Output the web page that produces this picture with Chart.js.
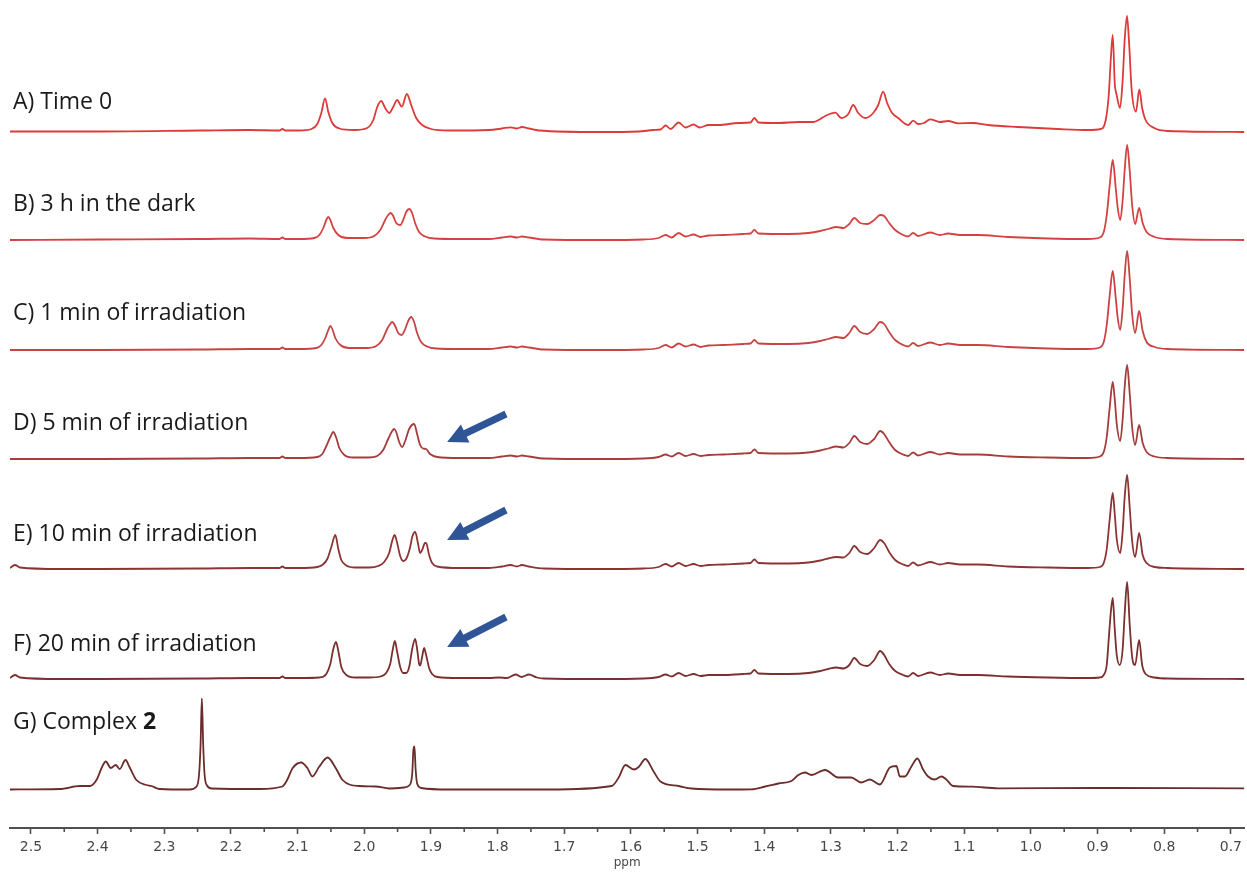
<!DOCTYPE html>
<html><head><meta charset="utf-8">
<script src="https://cdn.jsdelivr.net/npm/chart.js@4/dist/chart.umd.min.js"></script>
<style>html,body{margin:0;padding:0;background:#fff}#wrap{width:1247px;height:872px;position:relative}</style>
</head><body><div id="wrap"><canvas id="c"></canvas></div>
<script>
// ---- x-axis range / ticks (ppm) ----
const X_MAX = 2.5314, X_MIN = 0.6797;
const majorTicks = [2.5,2.4,2.3,2.2,2.1,2.0,1.9,1.8,1.7,1.6,1.5,1.4,1.3,1.2,1.1,1.0,0.9,0.8,0.7];
const minorTicks = [2.45,2.35,2.25,2.15,2.05,1.95,1.85,1.75,1.65,1.55,1.45,1.35,1.25,1.15,1.05,0.95,0.85,0.75];
const traceLabels = ['A) Time 0','B) 3 h in the dark','C) 1 min of irradiation','D) 5 min of irradiation','E) 10 min of irradiation','F) 20 min of irradiation','G) Complex '];
const boldSuffix = ['','','','','','','2'];

// ---- spectra: [ppm, intensity] ----
const specA = [[2.5314,0],[2.3967,0],[2.247,1],[2.1721,1.5],[2.1272,1],[2.1228,2.5],[2.1183,1],[2.0973,1],
[2.0793,2.5],[2.0704,7.5],[2.0644,18.5],[2.0588,33.2],[2.0539,19.5],[2.0479,8.5],[2.0374,3],[2.015,1.5],
[1.9955,3.5],[1.9865,11.5],[1.9805,24.5],[1.9746,30.5],[1.9686,23.5],[1.9626,18.5],[1.9566,24.5],[1.9506,31.5],[1.9436,24.8],[1.9361,37.5],[1.9296,26.5],[1.9221,13.5],[1.9132,6.5],[1.8997,2.5],[1.8728,1],
[1.8129,1.5],[1.7934,3],[1.7804,4.2],[1.771,3],[1.7635,4.5],[1.753,3],[1.738,1],[1.6482,-0.5],[1.5883,0],[1.5659,1.5],[1.5554,2],[1.5479,6],[1.5404,2.5],[1.5284,9],[1.518,4],[1.506,7],[1.497,4],[1.4835,6.5],[1.4686,6.5],[1.4386,8.5],[1.4206,9],[1.4147,13.5],[1.4087,9],[1.3787,8.5],[1.3488,9.5],[1.3263,9.5],
[1.3159,12.5],[1.3084,15.5],[1.2934,18.8],[1.2844,13.5],[1.2739,17.5],[1.2665,26.5],[1.259,18.5],[1.2485,13.5],[1.2365,18.5],[1.229,26.5],[1.2216,39.8],[1.2156,28.5],[1.2081,18.5],[1.1991,13.5],[1.1841,6.5],[1.1766,10.8],[1.1692,7.5],[1.1602,8.5],[1.1512,12.2],[1.1362,9.5],[1.1242,10.5],[1.1093,8.2],[1.0868,8.5],[1.0644,6.5],[1.0195,4.5],[0.9596,2.5],[0.9147,1.5],
[0.8952,2.5],[0.8877,11.5],[0.8832,36.5],[0.8802,71.5],[0.8772,96.5],[0.8742,48.5],[0.8713,36.5],[0.8663,23.5],[0.8623,51.5],[0.8593,91.5],[0.8558,115.5],[0.8525,86.5],[0.8488,41.5],[0.8424,19.8],[0.8373,42.2],[0.8331,23.5],[0.8279,11.5],[0.8148,3.5],[0.7949,0.5],[0.6797,-0.5]];

const specB = [[2.5314,0],[2.3967,0.5],[2.247,1],[2.1721,1.5],[2.1272,1],[2.1228,2.5],[2.1183,1],[2.0973,1],
[2.0749,2],[2.0674,5],[2.0614,12],[2.0569,20],[2.0539,23],[2.0509,20],[2.0464,12],[2.0389,5],[2.0255,2],[2.0,2],
[1.985,4],[1.976,10],[1.9686,20],[1.9641,25],[1.9603,27],[1.9566,24],[1.9521,17],[1.9461,15],[1.9416,20],[1.9371,28],[1.9326,31],[1.9282,27],[1.9237,17],[1.9177,8],[1.9087,3.5],[1.8952,1.5],[1.8578,1],
[1.8129,1],[1.7934,2.5],[1.7804,3.5],[1.771,2.5],[1.7635,3.5],[1.753,2.5],[1.7305,0.5],[1.6482,0],[1.5808,0.5],[1.5584,2],[1.5479,5],[1.5389,2.5],[1.5284,7],[1.518,3.5],[1.506,5.5],[1.4955,3],[1.4835,4.5],[1.4611,5],[1.4311,6],[1.4206,6.5],[1.4147,10],[1.4087,6.5],[1.3638,6],[1.3338,7],
[1.3159,9],[1.3039,11],[1.2919,13],[1.2814,12],[1.2724,16],[1.2649,22],[1.256,17],[1.2455,16],[1.235,20],[1.2261,25],[1.2201,24],[1.2126,17],[1.2036,10],[1.1916,5],[1.1841,3.5],[1.1766,7],[1.1692,4],[1.1512,7.5],[1.1362,5],[1.1242,6.5],[1.1063,5],[1.0793,5],[1.0344,3],[0.9746,1.5],[0.9147,1],
[0.8967,2.5],[0.8907,8],[0.8862,25],[0.8817,55],[0.8772,80],[0.8727,52],[0.8697,32],[0.866,20],[0.8623,40],[0.8593,70],[0.8556,95],[0.8518,70],[0.8481,35],[0.8436,16],[0.8376,32],[0.8323,17],[0.8264,8],[0.8144,3],[0.7949,1],[0.6797,0]];

const specC = [[2.5314,0],[2.3967,0],[2.247,0.5],[2.1721,1],[2.1272,1],[2.1228,2.5],[2.1183,1],[2.0973,1],
[2.0719,2],[2.0644,5],[2.0584,12],[2.0539,20],[2.0509,24],[2.0479,21],[2.0434,12],[2.0359,5],[2.0225,2],[1.997,2],
[1.982,4],[1.9731,10],[1.9656,21],[1.9611,26],[1.9581,28],[1.9536,24],[1.9491,17],[1.9439,15],[1.9386,21],[1.9341,29],[1.9296,33],[1.9252,28],[1.9207,17],[1.9147,8],[1.9057,3.5],[1.8922,1.5],[1.8578,1],
[1.8129,1],[1.7934,2.5],[1.7804,3.5],[1.771,2.5],[1.7635,3.5],[1.753,2.5],[1.7305,0.5],[1.6482,0],[1.5808,0.5],[1.5584,2],[1.5479,5],[1.5389,2.5],[1.5284,6.5],[1.518,3.5],[1.506,5.5],[1.4955,3],[1.4835,4.5],[1.4611,5],[1.4311,6],[1.4206,6.5],[1.4147,10],[1.4087,6.5],[1.3638,6],[1.3338,7],
[1.3159,9],[1.3039,11],[1.2919,13],[1.2814,12],[1.2724,17],[1.2649,24],[1.256,18],[1.2455,16],[1.235,21],[1.2261,28],[1.2201,26],[1.2126,18],[1.2036,10],[1.1916,5],[1.1841,3.5],[1.1766,7],[1.1692,4],[1.1512,7.5],[1.1362,5],[1.1242,6.5],[1.1063,5],[1.0793,5],[1.0344,3],[0.9746,1.5],[0.9147,1],
[0.8967,2.5],[0.8907,8],[0.8862,25],[0.8817,55],[0.8772,79],[0.8727,52],[0.8697,32],[0.866,20],[0.8623,42],[0.8593,74],[0.8556,99],[0.8518,72],[0.8481,36],[0.8436,17],[0.8376,39],[0.8323,19],[0.8264,8],[0.8144,3],[0.7949,1],[0.6797,0]];

const specD = [[2.5314,0],[2.3967,0],[2.247,0.5],[2.1721,1],[2.1272,1],[2.1228,2.5],[2.1183,1],[2.0973,1],
[2.0704,2],[2.0629,5],[2.0569,13],[2.0509,22],[2.0464,27],[2.0419,21],[2.0374,11],[2.0299,4],[2.0165,1.5],[1.994,1.5],
[1.9805,3],[1.9716,9],[1.9641,20],[1.9581,28],[1.9551,30],[1.9521,27],[1.9476,17],[1.9431,12],[1.9386,18],[1.9326,30],[1.9251,35],[1.9207,25],[1.9162,14],[1.9117,10.5],[1.9072,10],[1.9012,5],[1.8907,2],[1.8578,1],
[1.8129,1],[1.7934,2.5],[1.7804,3.5],[1.771,2.5],[1.7635,3.5],[1.753,2.5],[1.7305,0.5],[1.6482,0],[1.5808,0.5],[1.5584,2],[1.5479,4.5],[1.5389,2.5],[1.5284,6],[1.518,3],[1.506,5],[1.4955,3],[1.4835,4],[1.4611,4.5],[1.4311,5.5],[1.4206,6],[1.4147,9.5],[1.4087,6],[1.3638,5.5],[1.3338,6.5],
[1.3159,8.5],[1.3039,10.5],[1.2919,12.5],[1.2814,11.5],[1.2724,16],[1.2649,23],[1.256,17],[1.2455,15],[1.235,20],[1.2261,28],[1.2201,25],[1.2126,17],[1.2036,9],[1.1916,4.5],[1.1841,3],[1.1766,6.5],[1.1692,3.5],[1.1512,7],[1.1362,4.5],[1.1242,6],[1.1063,4.5],[1.0793,4.5],[1.0344,2.5],[0.9746,1.5],[0.9147,1],
[0.8967,2.5],[0.8907,7],[0.8862,22],[0.8817,52],[0.8772,77],[0.8742,60],[0.8712,35],[0.866,18],[0.8623,40],[0.8593,72],[0.8556,94],[0.8518,66],[0.8481,32],[0.8436,14],[0.8376,34],[0.8323,16],[0.8264,7],[0.8144,2.5],[0.7949,1],[0.6797,0]];

const specE = [[2.5314,1],[2.5239,4],[2.5164,1.5],[2.4566,0],[2.3967,0],[2.247,0.5],[2.1721,1],[2.1272,1],[2.1228,2.5],[2.1183,1],[2.0973,1],
[2.0704,2],[2.0629,4],[2.0554,10],[2.0494,22],[2.0434,34],[2.0389,20],[2.0344,9],[2.0269,3.5],[2.0135,1.5],[1.9925,1.5],
[1.979,3],[1.9701,7],[1.9626,16],[1.9581,28],[1.9544,34],[1.9506,26],[1.9461,13],[1.9416,8],[1.9371,10],[1.9311,22],[1.9281,32],[1.9236,37],[1.9192,25],[1.9162,16],[1.9132,19],[1.9087,26],[1.9072,26],[1.9027,14],[1.8982,6],[1.8907,2.5],[1.8578,1],
[1.8129,1],[1.7934,2.5],[1.7804,4],[1.771,2.5],[1.7635,4],[1.753,2.5],[1.7305,0.5],[1.6482,0],[1.5808,0.5],[1.5584,2],[1.5479,5],[1.5389,2.5],[1.5284,6],[1.518,3],[1.506,5],[1.4955,3],[1.4835,4],[1.4611,4.5],[1.4311,5.5],[1.4206,6],[1.4147,9.5],[1.4087,6],[1.3638,5.5],[1.3338,6.5],
[1.3159,8.5],[1.3039,10.5],[1.2919,12],[1.2814,11.5],[1.2724,16],[1.2649,23],[1.256,17],[1.2455,15],[1.235,21],[1.2261,29],[1.2201,26],[1.2126,17],[1.2036,9],[1.1916,4.5],[1.1841,3],[1.1766,6.5],[1.1692,3.5],[1.1512,7],[1.1362,4.5],[1.1242,6],[1.1063,4.5],[1.0793,4.5],[1.0344,2.5],[0.9746,1.5],[0.9147,1],
[0.8967,2],[0.8907,6],[0.8862,20],[0.8817,50],[0.8772,76],[0.8742,55],[0.8712,30],[0.866,16],[0.8623,38],[0.8593,72],[0.8556,94],[0.8518,62],[0.8481,28],[0.8436,12],[0.8376,36],[0.8323,14],[0.8264,6],[0.8144,2],[0.7949,1],[0.6797,0]];

const specF = [[2.5314,1],[2.5239,4],[2.5164,1.5],[2.4566,0],[2.3967,0],[2.247,0.5],[2.1721,1],[2.1272,1],[2.1228,2.5],[2.1183,1],[2.0973,1],
[2.0674,1.5],[2.0569,5],[2.0509,15],[2.0464,30],[2.0424,37],[2.0389,28],[2.0344,12],[2.0269,4],[2.0135,1.5],[1.9925,1.5],
[1.976,2.5],[1.9671,6],[1.9611,15],[1.9571,30],[1.9541,38],[1.9506,27],[1.9461,12],[1.9416,6],[1.9371,6],[1.9326,12],[1.9281,30],[1.9236,40],[1.9207,30],[1.9177,15],[1.9162,13.5],[1.9132,22],[1.9102,31],[1.9072,24],[1.9027,11],[1.8982,5],[1.8907,2],[1.8578,1],
[1.8129,1],[1.7979,1.5],[1.7859,1],[1.773,4.5],[1.764,2],[1.753,4.5],[1.741,1.5],[1.7305,0.5],[1.6482,0],[1.5808,0.5],[1.5584,2],[1.5479,4.5],[1.5389,2.5],[1.5284,6],[1.518,3],[1.506,5],[1.4955,3],[1.4835,4],[1.4611,4],[1.4311,5],[1.4206,5.5],[1.4147,9],[1.4087,5.5],[1.3638,5],[1.3338,6],
[1.3159,8],[1.3039,10],[1.2919,11.5],[1.2814,10.5],[1.2724,14],[1.2649,21],[1.256,15],[1.2455,13],[1.235,19],[1.2261,28],[1.2201,24],[1.2126,15],[1.2036,8],[1.1916,4],[1.1841,2.5],[1.1766,6],[1.1692,3],[1.1512,6.5],[1.1362,4],[1.1242,5.5],[1.1063,4],[1.0793,4],[1.0344,2.5],[0.9746,1.5],[0.9147,1],
[0.8967,1.5],[0.8907,4],[0.8862,14],[0.8832,40],[0.8802,66],[0.8772,81],[0.8742,50],[0.8712,24],[0.8667,14],[0.8623,30],[0.8593,65],[0.8556,97],[0.8518,55],[0.8481,22],[0.8436,14],[0.8376,39],[0.8331,14],[0.8279,5],[0.8144,1.5],[0.7949,0.5],[0.6797,0]];

const specG = [[2.5314,0],[2.4566,0.5],[2.4266,3.5],[2.4117,3.5],[2.4012,10],[2.3937,22],[2.3877,28],[2.3802,21.5],[2.3728,24.5],[2.3668,20.5],[2.3582,29.5],[2.3518,22],[2.3418,9.5],[2.3268,4.5],[2.3193,3.5],[2.3069,0.5],[2.262,0],
[2.2515,3],[2.2478,15],[2.2455,45],[2.2436,91],[2.2416,45],[2.2395,15],[2.2358,4],[2.229,1],[2.1572,0.5],
[2.1228,3],[2.1153,10],[2.1078,21],[2.0948,27],[2.0853,21.5],[2.0779,13],[2.0674,23],[2.0549,32],[2.0424,21],[2.0325,9.5],[2.0075,3.5],[1.9825,3],[1.9626,1],[1.9401,2],[1.9326,4],
[1.9281,15],[1.9262,40],[1.9247,43],[1.9229,20],[1.9207,6],[1.9147,1.5],[1.8728,0],[1.7231,0],
[1.6287,3.5],[1.6183,12],[1.6082,24.5],[1.5958,20],[1.5883,22.5],[1.5783,30.5],[1.5659,18],[1.5558,8],[1.5284,3.5],[1.509,1],[1.4536,0],[1.4192,0.2],
[1.3986,3],[1.3787,6],[1.3592,8.5],[1.3488,14.5],[1.3388,17],[1.3293,14.5],[1.3088,19.5],[1.2889,12],[1.2695,12],[1.2545,7],[1.2415,10],[1.2265,5],[1.2115,22],[1.2017,23.5],[1.1966,13],[1.1891,13],[1.1792,23],[1.1702,31],[1.1617,20],[1.1542,13],[1.1442,10],[1.1343,13],[1.1268,10],[1.1168,3.5],[1.0893,2.8],[1.0494,1.2],[0.8997,1.5],[0.6797,1.2]];

const spectra = [specA, specB, specC, specD, specE, specF, specG];

// ---- styling / layout (not data) ----
const colors = ['#dd3a3a','#d44242','#c84444','#a63c3c','#8c3434','#7c2f2f','#6b2c2c'];
const offsets = [696.5, 588, 478, 369, 259, 149, 38.5];   // vertical stacking offsets (value units = px)
const labelY = [109, 211, 320, 430, 541, 651, 729];
const arrows = [ // [tailPpm, tailRel, tipPpm, tipRel, traceIndex]
  [1.7874, 45, 1.8757, 17, 3],
  [1.7874, 59, 1.8757, 29, 4],
  [1.7874, 62, 1.8757, 32, 5]
];

const overlay = {
  id: 'overlay',
  afterDatasetsDraw(chart) {
    const ctx = chart.ctx, xs = chart.scales.x, ys = chart.scales.y;
    ctx.save();
    ctx.textBaseline = 'alphabetic';
    ctx.fillStyle = '#1a1a1a';
    traceLabels.forEach((t, i) => {
      ctx.font = '23px "Open Sans"';
      ctx.fillText(t, 13, labelY[i]);
      if (boldSuffix[i]) {
        const w = ctx.measureText(t).width;
        ctx.font = 'bold 23px "Open Sans"';
        ctx.fillText(boldSuffix[i], 13 + w, labelY[i]);
      }
    });
    ctx.fillStyle = '#2f5597';
    arrows.forEach(a => {
      const tx = xs.getPixelForValue(a[0]), ty = ys.getPixelForValue(offsets[a[4]] + a[1]);
      const px = xs.getPixelForValue(a[2]), py = ys.getPixelForValue(offsets[a[4]] + a[3]);
      const dx = px - tx, dy = py - ty, L = Math.hypot(dx, dy);
      const ux = dx / L, uy = dy / L, nx = -uy, ny = ux;
      const hl = 20, hw = 10, sw = 3.6;
      const bx = px - ux * hl, by = py - uy * hl;
      ctx.beginPath();
      ctx.moveTo(tx + nx * sw, ty + ny * sw);
      ctx.lineTo(bx + nx * sw, by + ny * sw);
      ctx.lineTo(bx + nx * hw, by + ny * hw);
      ctx.lineTo(px, py);
      ctx.lineTo(bx - nx * hw, by - ny * hw);
      ctx.lineTo(bx - nx * sw, by - ny * sw);
      ctx.lineTo(tx - nx * sw, ty - ny * sw);
      ctx.closePath();
      ctx.fill();
    });
    ctx.restore();
  },
  afterDraw(chart) {
    const ctx = chart.ctx, xs = chart.scales.x;
    ctx.save();
    ctx.strokeStyle = '#505050';
    ctx.lineWidth = 1.6;
    minorTicks.forEach(v => {
      const x = xs.getPixelForValue(v);
      ctx.beginPath();
      ctx.moveTo(x, xs.top);
      ctx.lineTo(x, xs.top + 4);
      ctx.stroke();
    });
    ctx.restore();
  }
};

new Chart(document.getElementById('c'), {
  type: 'line',
  data: {
    datasets: spectra.map((s, i) => ({
      data: s.map(p => ({x: p[0], y: p[1] + offsets[i]})),
      borderColor: colors[i],
      borderWidth: 1.8,
      pointRadius: 0,
      fill: false,
      cubicInterpolationMode: 'monotone'
    }))
  },
  options: {
    responsive: true,
    maintainAspectRatio: false,
    animation: false,
    devicePixelRatio: 1,
    layout: {padding: {left: 10, right: 0, top: 0, bottom: 0}},
    plugins: {legend: {display: false}, tooltip: {enabled: false}},
    scales: {
      x: {
        type: 'linear', reverse: true, min: X_MIN, max: X_MAX,
        afterBuildTicks: s => { s.ticks = majorTicks.map(v => ({value: v})); },
        afterFit: s => { s.height = 44; },
        border: {display: true, color: '#505050', width: 2},
        grid: {display: true, drawOnChartArea: false, drawTicks: true, tickLength: 6, tickWidth: 1.6, tickColor: '#505050'},
        ticks: {autoSkip: false, maxRotation: 0, padding: 5, color: '#474747',
          font: {family: 'DejaVu Sans', size: 14},
          callback: v => Number(v).toFixed(1)},
        title: {display: true, text: 'ppm', color: '#474747', font: {family: 'DejaVu Sans', size: 12}, padding: {top: 0, bottom: 2}}
      },
      y: {display: false, min: 0, max: 828}
    }
  },
  plugins: [overlay]
});
</script></body></html>
